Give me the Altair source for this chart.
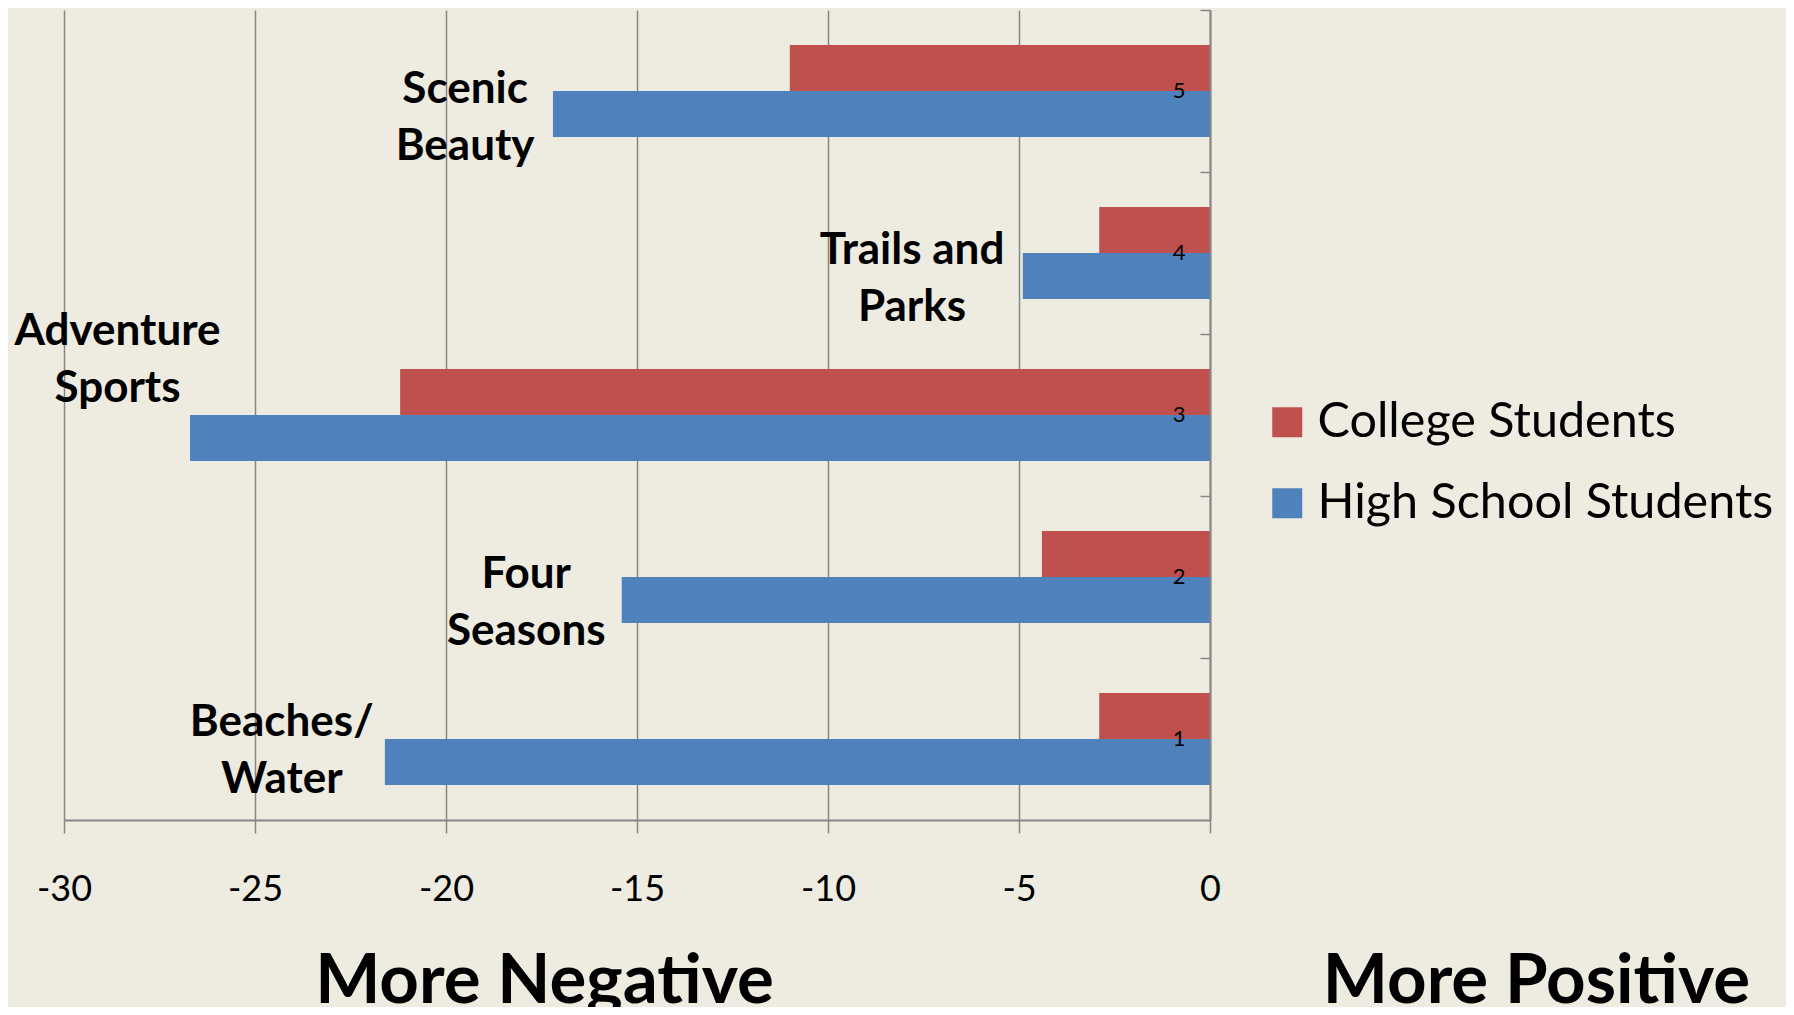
import altair as alt
import pandas as pd

# ---- data ----
ranks = [1, 2, 3, 4, 5]
college = [-2.9, -4.4, -21.2, -2.9, -11.0]
high_school = [-21.6, -15.4, -26.7, -4.9, -17.2]
series_names = ["College Students", "High School Students"]
series_colors = ["#C0504D", "#4F81BD"]

label_texts = ["Beaches/\nWater", "Four\nSeasons", "Adventure\nSports", "Trails and\nParks", "Scenic\nBeauty"]
label_at = [-24.3, -17.9, -28.6, -7.8, -19.5]
label_dy = [-16, -2, -83, -2, -1]

x_ticks = [-30, -25, -20, -15, -10, -5, 0]

# ---- layout ----
W, H = 1146, 810
FONT = "Lato"
GRAY = "#868686"

rows = []
for r, c, h in zip(ranks, college, high_school):
    rows.append({"rank": r, "series": series_names[0], "value": c})
    rows.append({"rank": r, "series": series_names[1], "value": h})
bars_df = pd.DataFrame(rows)

x_scale = alt.Scale(domain=[-30, 0], nice=False, zero=True)
y_scale = alt.Scale(paddingInner=0, paddingOuter=0)

x_axis = alt.Axis(
    values=x_ticks, labelExpr="datum.value + ''", labelOverlap=False, labelFlush=False,
    title="More Negative", titleX=480, titleY=182, titleAlign="center",
    titleBaseline="alphabetic", titleFont=FONT, titleFontSize=69, titleFontWeight="bold",
    titleColor="black",
    domainColor=GRAY, domainWidth=2, tickColor=GRAY, tickWidth=1.5, tickSize=13,
    grid=True, gridColor=GRAY, gridWidth=1.5,
    labelFont=FONT, labelFontSize=36, labelColor="black", labelBaseline="alphabetic",
    labelPadding=67, zindex=0,
)

y_axis = alt.Axis(
    orient="left", offset=-W,
    title="More Positive", titleAngle=0, titleX=326, titleY=992, titleAlign="center",
    titleBaseline="alphabetic", titleFont=FONT, titleFontSize=69, titleFontWeight="bold",
    titleColor="black",
    domainColor=GRAY, domainWidth=2, tickColor=GRAY, tickWidth=1.5, tickSize=10,
    bandPosition=0, labelFont=FONT, labelFontSize=22, labelColor="black",
    labelPadding=15, labelAngle=0, grid=False, zindex=1,
)

bars = alt.Chart(bars_df).mark_bar().encode(
    x=alt.X("value:Q", scale=x_scale, axis=x_axis),
    y=alt.Y("rank:N", sort="descending", scale=y_scale, axis=y_axis),
    yOffset=alt.YOffset("series:N", sort=series_names,
                        scale=alt.Scale(paddingInner=0, paddingOuter=0.76)),
    color=alt.Color(
        "series:N",
        scale=alt.Scale(domain=series_names, range=series_colors),
        legend=alt.Legend(
            orient="none", legendX=1199, legendY=388, title=None,
            symbolType="square", symbolSize=900, symbolStrokeWidth=0,
            labelFont=FONT, labelFontSize=48.5, labelColor="black", labelOffset=6,
            rowPadding=32, padding=0, labelLimit=1000,
        ),
    ),
)

label_layers = []
for i in range(len(ranks)):
    df = pd.DataFrame({"rank": [ranks[i]], "x": [label_at[i]], "t": [label_texts[i]]})
    label_layers.append(
        alt.Chart(df).mark_text(
            align="center", baseline="middle", dy=label_dy[i], lineBreak="\n",
            lineHeight=57, font=FONT, fontSize=44, fontWeight="bold", color="black",
        ).encode(
            x=alt.X("x:Q", scale=x_scale, title="More Negative"),
            y=alt.Y("rank:N", sort="descending", scale=y_scale, title="More Positive"),
            text="t:N",
        )
    )

chart = alt.layer(bars, *label_layers).properties(
    width=W, height=H, autosize="none",
    padding={"left": 56, "top": 2, "right": 576, "bottom": 187},
    background="#EEEBE0",
).configure_view(strokeWidth=0)

chart.save("out.html", embed_options={"renderer": "svg", "actions": False})
